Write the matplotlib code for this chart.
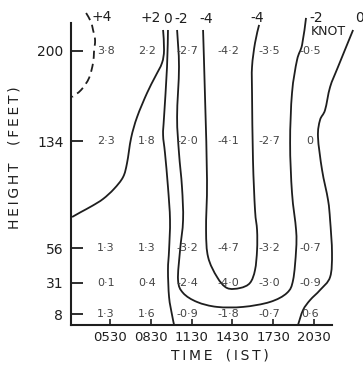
#!/usr/bin/env python3
# Time-height section of wind component (knots), hand-drawn isolines
import matplotlib
matplotlib.use("Agg")
import numpy as np
from matplotlib import pyplot as plt
from matplotlib.path import Path
from matplotlib.patches import PathPatch

# %% data
times = [5.5, 8.5, 11.5, 14.5, 17.5, 20.5]          # hours IST
time_labels = ["0530", "0830", "1130", "1430", "1730", "2030"]
heights = [200, 134, 56, 31, 8]                       # feet

# observed values, one row per height (top to bottom)
values = [
    [3.8, 2.2, -2.7, -4.2, -3.5, -0.5],
    [2.3, 1.8, -2.0, -4.1, -2.7, 0.0],
    [1.3, 1.3, -3.2, -4.7, -3.2, -0.7],
    [0.1, 0.4, -2.4, -4.0, -3.0, -0.9],
    [1.3, 1.6, -0.9, -1.8, -0.7, 0.6],
]

# isolines (time in hours, height in feet)
plus4_h = [3.74, 4.10, 4.25, 4.40, 4.32, 4.25, 3.96, 3.37, 2.71]
plus4_ft = [227.7, 221.2, 215.3, 208.0, 199.3, 191.2, 180.3, 171.5, 166.4]

plus2_h = [9.40, 9.47, 9.32, 8.81, 8.22, 7.49, 7.05, 6.75, 6.46, 5.79, 4.99, 4.18, 3.37, 2.71]
plus2_ft = [215.3, 200.7, 191.2, 181.0, 169.3, 151.8, 136.5, 118.2, 108.0, 99.3, 92.0, 86.9, 82.5, 78.8]

zero_l_h = [9.76, 9.69, 9.47, 9.40, 9.54, 9.76, 9.91, 9.84, 9.76, 9.84, 10.06, 10.21]
zero_l_ft = [215.3, 188.3, 151.8, 138.7, 125.5, 100.7, 76.6, 54.7, 40.1, 20.4, 7.3, 0.0]

minus2_h = [10.43, 10.57, 10.43, 10.57, 10.79, 10.87, 10.65, 10.50, 10.87, 11.90, 13.37,
            15.28, 17.26, 18.51, 18.96, 19.18, 19.18, 18.88, 18.74, 18.88, 19.25, 19.62, 19.91]
minus2_ft = [215.3, 188.3, 151.8, 125.5, 100.7, 76.6, 54.7, 32.8, 23.4, 16.8, 13.2,
             13.2, 16.8, 23.4, 32.8, 54.7, 69.3, 96.4, 132.8, 169.3, 193.4, 204.4, 224.1]

minus4_h = [12.34, 12.49, 12.63, 12.56, 12.71, 13.37, 14.10, 15.06, 15.79, 16.16, 16.31,
            16.31, 16.16, 16.01, 15.94, 15.94, 16.16, 16.46]
minus4_ft = [215.3, 164.2, 105.8, 69.3, 49.6, 35.0, 27.0, 27.0, 30.7, 40.1, 54.7,
             69.3, 83.9, 120.4, 169.3, 188.3, 205.8, 219.0]

zero_r_h = [23.37, 22.26, 21.68, 21.31, 20.94, 20.79, 21.09, 21.53, 21.68, 21.82, 21.68,
            20.94, 20.21, 19.69, 19.32]
zero_r_ft = [215.3, 188.3, 173.7, 156.9, 149.6, 137.2, 113.1, 91.2, 76.6, 52.6, 35.0,
             25.5, 18.2, 10.9, 0.0]


def smooth_path(xs, ys):
    # Catmull-Rom through the traced points, as cubic Bezier segments
    p = np.column_stack([xs, ys]).astype(float)
    p = np.vstack([p[0], p, p[-1]])
    verts = [p[1]]
    codes = [Path.MOVETO]
    for i in range(1, len(p) - 2):
        c1 = p[i] + (p[i + 1] - p[i - 1]) / 6
        c2 = p[i + 1] - (p[i + 2] - p[i]) / 6
        verts += [c1, c2, p[i + 1]]
        codes += [Path.CURVE4] * 3
    return Path(verts, codes)


# %% figure
ink = "#1e1e1e"
fig = plt.figure(figsize=(3.63, 3.65), dpi=100)
ax = fig.add_axes([0.1956, 0.1096, 0.719, 0.8274])

ax.set_xlim(2.63, 21.82)
ax.set_ylim(0, 220.4)
for side in ["top", "right"]:
    ax.spines[side].set_visible(False)
for side in ["left", "bottom"]:
    ax.spines[side].set_linewidth(1.5)
    ax.spines[side].set_color(ink)

ax.set_xticks(times)
ax.set_xticklabels(time_labels)
ax.set_yticks(heights)
ax.set_yticklabels([str(h) for h in heights])
ax.tick_params(axis="y", direction="in", length=8.6, width=1.3, pad=5.5,
               labelsize=10, colors=ink)
ax.tick_params(axis="x", direction="in", length=4.5, width=1.2, pad=4,
               labelsize=9.5, colors=ink)

ax.set_ylabel("H\u2009E\u2009I\u2009G\u2009H\u2009T    (\u2009F\u2009E\u2009E\u2009T\u2009)",
              fontsize=10, color=ink)
ax.yaxis.set_label_coords(-0.188, 0.553)
ax.set_xlabel("T\u2009I\u2009M\u2009E   (\u2009I\u2009S\u2009T\u2009)", fontsize=10, color=ink)
ax.xaxis.set_label_coords(0.57, -0.078)

# isolines
isolines = [(plus4_h, plus4_ft, (0, (4.5, 2.8))), (plus2_h, plus2_ft, "-"),
            (zero_l_h, zero_l_ft, "-"), (minus2_h, minus2_ft, "-"),
            (minus4_h, minus4_ft, "-"), (zero_r_h, zero_r_ft, "-")]
for h, ft, ls in isolines:
    ax.add_patch(PathPatch(smooth_path(h, ft), fill=False, edgecolor=ink,
                           lw=1.3, ls=ls, clip_on=False))

# isoline labels at line ends (offsets in pixels)
end_labels = [
    ("+4", plus4_h[0], plus4_ft[0], (16, -4)),
    ("+2", plus2_h[0], plus2_ft[0], (-12, 12)),
    ("0", zero_l_h[0], zero_l_ft[0], (0, 11)),
    ("-2", minus2_h[0], minus2_ft[0], (4, 11)),
    ("-4", minus4_h[0], minus4_ft[0], (3, 11)),
    ("-4", minus4_h[-1], minus4_ft[-1], (-2, 7)),
    ("-2", minus2_h[-1], minus2_ft[-1], (10, 0)),
    ("0", zero_r_h[0], zero_r_ft[0], (6, 12)),
]
for txt, h, ft, off in end_labels:
    ax.annotate(txt, (h, ft), xytext=off, textcoords="offset pixels",
                ha="center", va="center", fontsize=10, color=ink,
                annotation_clip=False)
ax.annotate("KNOT", (minus2_h[-1], minus2_ft[-1]), xytext=(22, -14),
            textcoords="offset pixels", ha="center", va="center",
            fontsize=9, color=ink, annotation_clip=False)

# observed values
for i, ft in enumerate(heights):
    for j, h in enumerate(times):
        v = values[i][j]
        s = "0" if v == 0 else f"{v:.1f}".replace(".", "\u00b7")
        ax.annotate(s, (h, ft), xytext=(-4, 0), textcoords="offset pixels",
                    ha="center", va="center", fontsize=8, color="#444444")

fig.savefig("out.png", dpi=100)
